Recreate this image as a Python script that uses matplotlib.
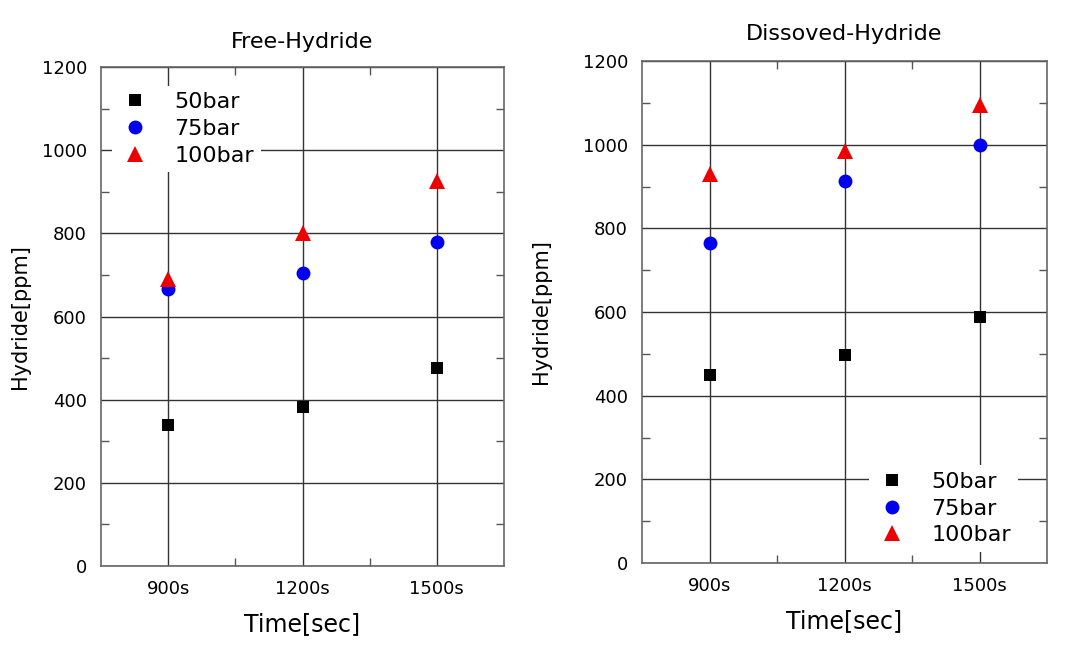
import matplotlib
matplotlib.use("Agg")
import matplotlib.pyplot as plt
from matplotlib.ticker import FixedLocator

plt.rcParams['font.family'] = ['DejaVu Sans']

categories = ["900s", "1200s", "1500s"]
series_labels = ["50bar", "75bar", "100bar"]

free_50 = [338, 382, 475]
free_75 = [667, 705, 778]
free_100 = [690, 800, 925]

diss_50 = [449, 497, 587]
diss_75 = [765, 912, 1000]
diss_100 = [930, 985, 1095]

y_ticks = [0, 200, 400, 600, 800, 1000, 1200]

styles = [dict(marker='s', color='black', ms=9),
          dict(marker='o', color='#0000ee', ms=10),
          dict(marker='^', color='#ee0000', ms=11)]

fig = plt.figure(figsize=(10.86, 6.62), dpi=100)
W, H = 1086, 662

def make_ax(x0, x1, y0, y1):
    return fig.add_axes([x0 / W, 1 - y1 / H, (x1 - x0) / W, (y1 - y0) / H])

ax1 = make_ax(101, 504, 67, 566)
ax2 = make_ax(642, 1047, 61, 563)

def style_ax(ax, title, data, legend_kw, title_pad, ylab_x):
    xs = list(range(len(categories)))
    handles = []
    for vals, st, lab in zip(data, styles, series_labels):
        h, = ax.plot(xs, vals, linestyle='none', marker=st['marker'],
                     color=st['color'], markersize=st['ms'], label=lab,
                     markeredgewidth=0, zorder=3)
        handles.append(h)
    ax.set_xlim(-0.5, 2.5)
    ax.set_ylim(0, 1200)
    ax.set_xticks(xs)
    ax.set_xticklabels(categories)
    ax.xaxis.set_minor_locator(FixedLocator([0.5, 1.5]))
    ax.set_yticks(y_ticks)
    ax.yaxis.set_minor_locator(FixedLocator([100, 300, 500, 700, 900, 1100]))
    ax.grid(True, which='major', color='#333333', linewidth=1.0)
    ax.set_axisbelow(True)
    ax.tick_params(which='both', direction='in', top=True, right=True,
                   labelsize=13, color='#555555', pad=10)
    ax.tick_params(which='major', length=0)
    ax.tick_params(which='minor', length=6, width=1)
    for sp in ax.spines.values():
        sp.set_color('#666666')
        sp.set_linewidth(1.2)
    ax.set_title(title, fontsize=16, pad=title_pad)
    ax.set_xlabel("Time[sec]", fontsize=17, labelpad=10)
    ax.set_ylabel("Hydride[ppm]", fontsize=15)
    ax.yaxis.set_label_coords(ylab_x, 0.5)
    leg = ax.legend(handles=handles, fontsize=16, frameon=True, framealpha=1,
                    edgecolor='none', facecolor='white', handletextpad=1.0,
                    labelspacing=0.3, borderpad=0.3, handlelength=1.5,
                    **legend_kw)
    leg.set_zorder(5)

style_ax(ax1, "Free-Hydride", [free_50, free_75, free_100],
         dict(loc='upper left', bbox_to_anchor=(0.0, 0.985)), 14, -0.175)
style_ax(ax2, "Dissoved-Hydride", [diss_50, diss_75, diss_100],
         dict(loc='lower right', bbox_to_anchor=(0.955, 0.0)), 15, -0.225)

fig.savefig("out.png", dpi=100)
